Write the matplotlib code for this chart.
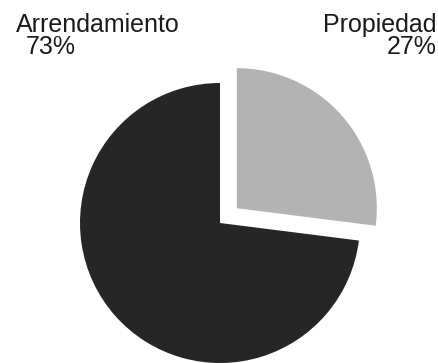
import matplotlib.pyplot as plt

labels = ['Propiedad', 'Arrendamiento']
shares = [27, 73]
colors = ['#b3b3b3', '#262626']
explode = [0.16, 0]

fig = plt.figure(figsize=(4.39, 3.63), dpi=100)
ax = fig.add_axes([0, 0, 1, 1])
ax.pie(shares, colors=colors, explode=explode, startangle=90,
       counterclock=False, radius=1.0, wedgeprops=dict(linewidth=0))

# center of the pie at pixel (220, 223), radius 140 px
s = 140.0
ax.set_xlim(-220 / s, (439 - 220) / s)
ax.set_ylim(-(363 - 223) / s, 223 / s)
ax.set_aspect('auto')
ax.axis('off')

font = dict(family=['Liberation Sans', 'DejaVu Sans'], fontsize=18, color='#1a1a1a')
W, H = 439.0, 363.0
fig.text(16 / W, 1 - 32 / H, labels[1], ha='left', va='baseline', **font)
fig.text(26 / W, 1 - 54 / H, f'{shares[1]}%', ha='left', va='baseline', **font)
fig.text(437 / W, 1 - 32 / H, labels[0], ha='right', va='baseline', **font)
fig.text(437 / W, 1 - 54 / H, f'{shares[0]}%', ha='right', va='baseline', **font)

fig.savefig('out.png', dpi=100)
